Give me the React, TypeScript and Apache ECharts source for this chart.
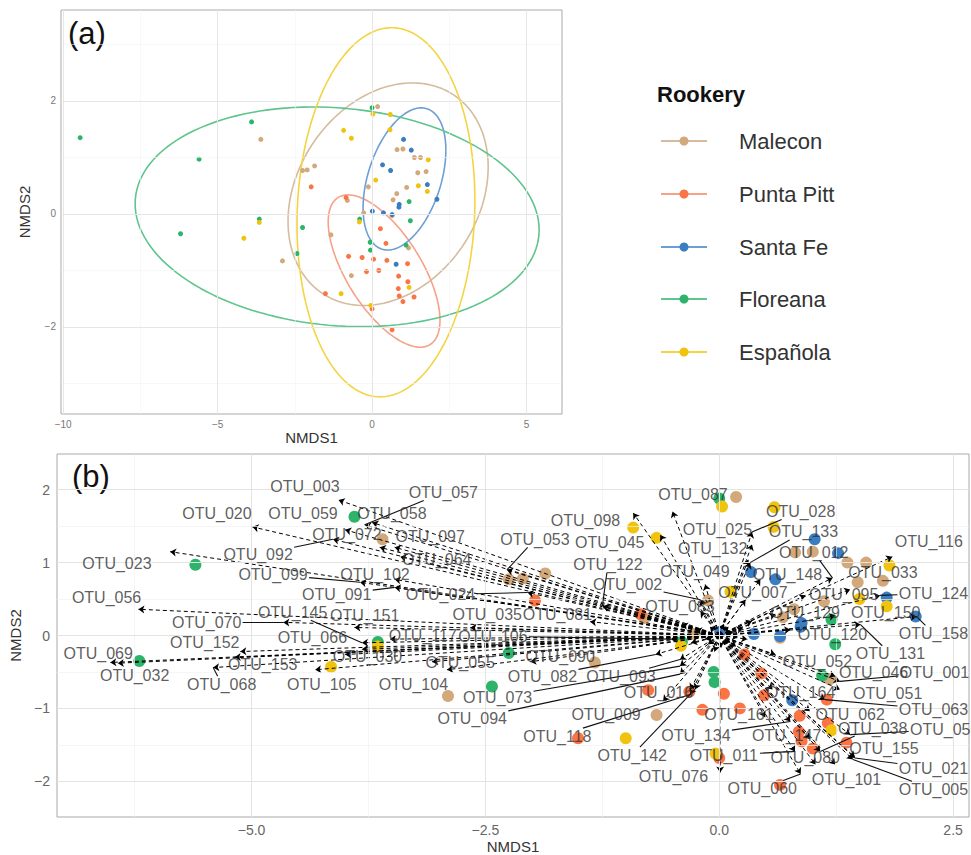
import React, { useEffect, useRef } from "react";
import * as echarts from "echarts";

const rookeries = ["Malecon", "Punta Pitt", "Santa Fe", "Floreana", "Española"];
const pointColors = ["#D3A87B", "#FA7446", "#3B7DC3", "#2DB46A", "#F0C30F"];
const ellipseColors = ["#D6BC9E", "#F7A189", "#6C9FD5", "#5FC58D", "#F3D443"];

// sample scores (NMDS1, NMDS2)
const malecon = [
  [0.18, 1.9], [-3.6, 1.32], [0.81, 1.14], [1.0, 1.15], [1.37, 1.0], [1.57, 1.0],
  [-2.25, 0.77], [-2.1, 0.78], [-1.86, 0.85], [1.48, 0.73], [1.75, 0.75], [-0.12, 0.48],
  [1.12, 0.47], [0.8, 0.36], [0.68, 0.25], [-0.8, 0.24], [-0.27, 0.02], [0.65, -0.03],
  [-1.33, -0.37], [1.18, -0.6], [-2.9, -0.83], [-0.67, -1.09],
];
const puntaPitt = [
  [-1.97, 0.48], [-0.84, 0.29], [0.27, -0.26], [0.45, -0.52], [-0.76, -0.75], [-0.32, -0.77],
  [0.05, -0.8], [0.48, -0.82], [1.15, -0.88], [-0.18, -1.02], [0.22, -1.0], [0.86, -1.1],
  [1.16, -1.2], [0.85, -1.32], [0.88, -1.45], [1.36, -1.47], [-1.51, -1.41], [1.0, -1.55],
  [0.0, -1.68], [0.65, -2.05],
];
const santaFe = [
  [1.02, 1.32], [1.27, 1.13], [0.34, 0.87], [0.6, 0.77], [1.79, 0.52], [2.1, 0.26],
  [0.88, 0.17], [0.87, 0.12], [0.01, 0.05], [0.37, 0.02], [0.65, -0.01], [0.78, -0.89],
];
const floreana = [
  [-9.45, 1.35], [-3.9, 1.63], [-5.6, 0.97], [-6.2, -0.35], [-3.65, -0.09], [-2.25, -0.24],
  [-2.43, -0.7], [0.0, 1.88], [-0.4, -0.09], [-0.06, -0.5], [-0.05, -0.64], [1.2, 0.22],
  [1.24, -0.12], [1.1, -0.55],
];
const espanola = [
  [0.03, 1.77], [0.59, 1.76], [-0.92, 1.48], [0.58, 1.49], [-0.67, 1.34], [1.82, 0.96],
  [0.12, 0.6], [1.5, 0.5], [1.79, 0.4], [-3.65, -0.15], [-0.41, -0.14], [-4.15, -0.43],
  [-1.0, -1.41], [-0.04, -1.62], [1.2, -1.3],
];
const samples = [malecon, puntaPitt, santaFe, floreana, espanola];

// 95% ellipses: centre, conjugate semi-axis a, conjugate semi-axis b
const ellipseCenters = [[0.52, 0.35], [0.39, -1.01], [1.05, 0.62], [-1.13, -0.05], [0.45, 0.03]];
const ellipseAxisA = [[3.24, 0.48], [1.81, -0.87], [1.34, 0.51], [6.54, -0.23], [2.88, 0.21]];
const ellipseAxisB = [[0, 1.91], [0, 1.03], [0, 1.15], [0, 1.93], [0, 3.26]];

// OTU vectors: name, tip x, tip y, label x, label y, connector segment shown
const otus: [string, number, number, number, number, number][] = [
  ["OTU_003", -4.07, 1.86, -4.43, 2.05, 0],
  ["OTU_020", -4.99, 1.49, -5.37, 1.67, 0],
  ["OTU_059", -4.0, 1.45, -4.45, 1.67, 0],
  ["OTU_057", -3.79, 1.52, -2.95, 1.96, 1],
  ["OTU_058", -3.71, 1.55, -3.5, 1.68, 0],
  ["OTU_072", -3.63, 1.21, -3.98, 1.38, 0],
  ["OTU_097", -3.47, 1.21, -3.09, 1.36, 0],
  ["OTU_092", -4.13, 1.32, -4.93, 1.11, 1],
  ["OTU_023", -5.87, 1.15, -6.44, 0.99, 0],
  ["OTU_064", -3.41, 1.08, -3.02, 1.04, 0],
  ["OTU_053", -2.27, 0.9, -1.97, 1.32, 1],
  ["OTU_099", -3.84, 0.73, -4.77, 0.84, 1],
  ["OTU_102", -3.47, 0.77, -3.68, 0.84, 0],
  ["OTU_091", -3.47, 0.66, -4.09, 0.56, 1],
  ["OTU_024", -2.05, 0.59, -2.98, 0.56, 1],
  ["OTU_056", -6.21, 0.36, -6.55, 0.52, 0],
  ["OTU_070", -4.66, 0.18, -5.48, 0.18, 1],
  ["OTU_145", -3.82, -0.1, -4.56, 0.32, 1],
  ["OTU_151", -3.9, 0.11, -3.79, 0.27, 0],
  ["OTU_035", -2.66, 0.11, -2.48, 0.29, 0],
  ["OTU_081", -1.38, 0.19, -1.73, 0.29, 0],
  ["OTU_066", -3.82, -0.19, -4.35, -0.03, 0],
  ["OTU_117", -3.52, -0.05, -3.17, 0.0, 0],
  ["OTU_106", -0.52, -0.05, -2.42, -0.01, 1],
  ["OTU_152", -5.12, -0.22, -5.5, -0.1, 0],
  ["OTU_069", -6.51, -0.37, -6.64, -0.25, 0],
  ["OTU_032", -6.43, -0.38, -6.25, -0.55, 0],
  ["OTU_153", -5.18, -0.3, -4.88, -0.4, 0],
  ["OTU_068", -5.41, -0.44, -5.32, -0.67, 1],
  ["OTU_105", -4.32, -0.47, -4.25, -0.67, 0],
  ["OTU_030", -4.0, -0.26, -3.76, -0.29, 0],
  ["OTU_055", -3.07, -0.36, -2.77, -0.37, 0],
  ["OTU_104", -2.91, -0.47, -3.27, -0.67, 0],
  ["OTU_090", -2.02, -0.36, -1.7, -0.29, 0],
  ["OTU_082", -0.68, -0.26, -1.89, -0.56, 1],
  ["OTU_093", -0.42, -0.33, -1.05, -0.56, 1],
  ["OTU_073", -0.42, -0.42, -2.37, -0.85, 1],
  ["OTU_094", -0.42, -0.53, -2.64, -1.14, 1],
  ["OTU_009", -0.6, -0.9, -1.21, -1.08, 0],
  ["OTU_016", -0.31, -0.74, -0.65, -0.78, 0],
  ["OTU_118", -0.31, -0.81, -1.73, -1.38, 1],
  ["OTU_142", -0.26, -0.74, -0.93, -1.64, 1],
  ["OTU_098", -0.92, 1.68, -1.43, 1.58, 0],
  ["OTU_045", -0.63, 1.38, -1.17, 1.27, 0],
  ["OTU_122", -1.25, 0.4, -1.19, 0.97, 1],
  ["OTU_002", -0.2, 0.49, -0.98, 0.7, 1],
  ["OTU_087", -0.5, 1.7, -0.28, 1.93, 0],
  ["OTU_028", 0.35, 1.42, 0.87, 1.7, 1],
  ["OTU_025", 0.35, 1.25, -0.02, 1.45, 0],
  ["OTU_133", 0.33, 1.0, 0.9, 1.42, 1],
  ["OTU_132", 0.31, 1.04, -0.07, 1.19, 0],
  ["OTU_012", 1.21, 0.79, 1.01, 1.14, 1],
  ["OTU_116", 1.85, 1.08, 2.24, 1.29, 0],
  ["OTU_033", 1.4, 0.63, 1.75, 0.86, 0],
  ["OTU_049", -0.15, 0.7, -0.26, 0.88, 0],
  ["OTU_148", 0.44, 0.77, 0.73, 0.84, 0],
  ["OTU_007", 0.28, 0.49, 0.36, 0.59, 0],
  ["OTU_095", 0.92, 0.55, 1.33, 0.56, 0],
  ["OTU_124", 1.72, 0.55, 2.29, 0.58, 1],
  ["OTU_083", -0.2, 0.33, -0.42, 0.4, 0],
  ["OTU_129", 0.6, 0.29, 0.92, 0.32, 0],
  ["OTU_150", 1.24, 0.27, 1.78, 0.32, 0],
  ["OTU_158", 2.11, 0.26, 2.29, 0.03, 1],
  ["OTU_120", 0.76, 0.08, 1.21, 0.01, 0],
  ["OTU_131", 1.51, 0.15, 1.83, -0.25, 1],
  ["OTU_052", 0.6, -0.26, 1.05, -0.36, 0],
  ["OTU_046", 1.24, -0.56, 1.65, -0.51, 0],
  ["OTU_001", 1.29, -0.63, 2.3, -0.51, 1],
  ["OTU_051", 1.29, -0.74, 1.8, -0.79, 0],
  ["OTU_164", 0.57, -0.74, 0.87, -0.78, 0],
  ["OTU_063", 1.13, -0.88, 2.29, -1.01, 1],
  ["OTU_062", 0.97, -1.04, 1.4, -1.08, 0],
  ["OTU_161", 0.49, -1.12, 0.21, -1.08, 0],
  ["OTU_134", 0.76, -1.18, -0.25, -1.37, 1],
  ["OTU_147", 0.97, -1.42, 0.72, -1.37, 0],
  ["OTU_038", 1.08, -1.59, 1.64, -1.27, 1],
  ["OTU_050", 1.4, -1.36, 2.41, -1.29, 1],
  ["OTU_155", 1.45, -1.67, 1.76, -1.55, 0],
  ["OTU_011", 0.81, -1.59, 0.05, -1.64, 1],
  ["OTU_080", 1.03, -1.77, 0.92, -1.68, 0],
  ["OTU_021", 1.45, -1.68, 2.29, -1.82, 1],
  ["OTU_005", 1.43, -1.7, 2.29, -2.11, 1],
  ["OTU_101", 1.24, -1.77, 1.36, -1.97, 0],
  ["OTU_076", 0.01, -1.88, -0.49, -1.93, 0],
  ["OTU_060", 0.87, -1.9, 0.46, -2.1, 1],
];
// short vectors crowded at the origin (labels hidden under the crowd)
const shortTips = [
  [0.15, 0.05], [0.12, -0.1], [-0.1, 0.12], [-0.15, -0.05], [0.05, 0.16], [0.02, -0.17],
  [-0.2, 0.02], [0.2, -0.02], [0.1, 0.12], [-0.12, -0.12], [0.25, 0.1], [-0.25, 0.08],
  [0.18, -0.15], [-0.05, -0.22], [0.3, -0.05], [-0.3, -0.1], [-0.4, 0.15], [0.35, 0.2],
];

// axes
const aXRange = [-10.07, 6.15];
const aYRange = [-3.54, 3.61];
const aXTicks = [-10, -5, 0, 5];
const aXMinor = [-7.5, -2.5, 2.5];
const aYTicks = [-2, 0, 2];
const aYMinor = [-3, -1, 1, 3];
const bXRange = [-7.08, 2.67];
const bYRange = [-2.49, 2.49];
const bXTicks = [-5, -2.5, 0, 2.5];
const bXMinor = [-6.25, -3.75, -1.25, 1.25];
const bYTicks = [-2, -1, 0, 1, 2];
const bYMinor = [-1.5, -0.5, 0.5, 1.5];

const FONT = '"Liberation Sans", Arial, sans-serif';
const gridA = { left: 61, top: 10, width: 501, height: 404 };
const gridB = { left: 57, top: 454, width: 912, height: 364 };

function ellipsePath(c: number[], a: number[], b: number[]) {
  const pts: number[][] = [];
  for (let k = 0; k <= 144; k++) {
    const t = (k / 144) * 2 * Math.PI;
    pts.push([c[0] + a[0] * Math.cos(t) + b[0] * Math.sin(t), c[1] + a[1] * Math.cos(t) + b[1] * Math.sin(t)]);
  }
  return pts;
}

const minus = (s: string) => s.replace("-", "\u2212");

function gridLines(idx: number, xs: number[], ys: number[], color: string, width: number) {
  return {
    type: "scatter",
    xAxisIndex: idx,
    yAxisIndex: idx,
    data: [],
    silent: true,
    z: 0,
    markLine: {
      silent: true,
      symbol: "none",
      animation: false,
      label: { show: false },
      lineStyle: { color, width, type: "solid" },
      data: [...xs.map((v) => ({ xAxis: v })), ...ys.map((v) => ({ yAxis: v }))],
    },
  };
}

function axisBase(extra: any) {
  return {
    type: "value",
    axisLine: { show: false },
    splitLine: { show: false },
    ...extra,
  };
}

export default function App() {
  const ref = useRef<HTMLDivElement>(null);
  useEffect(() => {
    if (!ref.current) return;
    const chart = echarts.init(ref.current, undefined, { renderer: "svg" });

    const sx = gridB.width / (bXRange[1] - bXRange[0]);
    const sy = gridB.height / (bYRange[1] - bYRange[0]);
    const HW = 36, HH = 8;
    const connectors: any[] = [];
    otus.forEach(([, tx, ty, lx, ly, seg]) => {
      if (!seg) return;
      const dx = (tx - lx) * sx, dy = (ty - ly) * sy;
      const t = Math.min(HW / Math.max(Math.abs(dx), 1e-6), HH / Math.max(Math.abs(dy), 1e-6));
      if (t >= 1) return;
      connectors.push({ coords: [[lx + (tx - lx) * t, ly + (ty - ly) * t], [tx, ty]] });
    });

    const arrows = [
      ...otus.map(([, tx, ty]) => ({ coords: [[0, 0], [tx, ty]] })),
      ...shortTips.map(([tx, ty]) => ({ coords: [[0, 0], [tx, ty]] })),
    ];

    const series: any[] = [
      gridLines(0, aXMinor, aYMinor, "#f3f3f3", 0.6),
      gridLines(0, aXTicks, aYTicks, "#e6e6e6", 1),
      gridLines(1, bXMinor, bYMinor, "#f1f1f1", 0.7),
      gridLines(1, bXTicks, bYTicks, "#e3e3e3", 1),
    ];
    rookeries.forEach((r, i) => {
      series.push({
        type: "line",
        name: r + " ellipse",
        xAxisIndex: 0,
        yAxisIndex: 0,
        data: ellipsePath(ellipseCenters[i], ellipseAxisA[i], ellipseAxisB[i]),
        showSymbol: false,
        symbol: "none",
        silent: true,
        lineStyle: { color: ellipseColors[i], width: 1.6 },
        z: 2,
      });
    });
    rookeries.forEach((r, i) => {
      series.push({
        type: "scatter",
        name: r,
        xAxisIndex: 0,
        yAxisIndex: 0,
        data: samples[i],
        symbolSize: 5,
        itemStyle: { color: pointColors[i], opacity: 1 },
        z: 3,
      });
    });
    rookeries.forEach((r, i) => {
      series.push({
        type: "scatter",
        name: r + " b",
        xAxisIndex: 1,
        yAxisIndex: 1,
        data: samples[i],
        symbolSize: 12,
        clip: true,
        itemStyle: { color: pointColors[i], opacity: 1 },
        z: 3,
      });
    });
    series.push({
      type: "lines",
      coordinateSystem: "cartesian2d",
      xAxisIndex: 1,
      yAxisIndex: 1,
      data: arrows,
      symbol: ["none", "arrow"],
      symbolSize: 6,
      silent: true,
      lineStyle: { color: "#000", width: 1, type: [4, 3], opacity: 1 },
      z: 4,
    });
    series.push({
      type: "lines",
      coordinateSystem: "cartesian2d",
      xAxisIndex: 1,
      yAxisIndex: 1,
      data: connectors,
      symbol: "none",
      silent: true,
      lineStyle: { color: "#111", width: 1.1, type: "solid", opacity: 1 },
      z: 5,
    });
    series.push({
      type: "scatter",
      xAxisIndex: 1,
      yAxisIndex: 1,
      data: otus.map(([n, , , lx, ly]) => ({ name: n, value: [lx, ly] })),
      symbolSize: 1,
      clip: false,
      itemStyle: { color: "rgba(0,0,0,0)" },
      label: {
        show: true,
        position: "inside",
        formatter: "{b}",
        color: "#333",
        fontSize: 16,
        fontFamily: FONT,
      },
      labelLayout: { hideOverlap: false },
      z: 6,
    });

    const legendY = [141, 194, 247, 299, 352];
    const graphic: any[] = [
      { type: "text", left: 68, top: 18, style: { text: "(a)", font: `31px ${FONT}`, fill: "#111" } },
      { type: "text", left: 72, top: 461, style: { text: "(b)", font: `31px ${FONT}`, fill: "#111" } },
      { type: "text", x: 657, y: 94, style: { text: "Rookery", font: `bold 22px ${FONT}`, fill: "#111", verticalAlign: "middle" } },
    ];
    rookeries.forEach((r, i) => {
      const y = legendY[i];
      graphic.push(
        { type: "line", shape: { x1: 661, y1: y, x2: 707, y2: y }, style: { stroke: ellipseColors[i], lineWidth: 2 } },
        { type: "circle", shape: { cx: 684, cy: y, r: 4.5 }, style: { fill: pointColors[i] } },
        { type: "text", x: 739, y, style: { text: r, font: `22px ${FONT}`, fill: "#333", verticalAlign: "middle" } }
      );
    });

    chart.setOption({
      animation: false,
      backgroundColor: "#fff",
      textStyle: { fontFamily: FONT },
      grid: [
        { ...gridA, show: true, borderColor: "#a9a9a9", borderWidth: 1, backgroundColor: "transparent" },
        { ...gridB, show: true, borderColor: "#a9a9a9", borderWidth: 1, backgroundColor: "transparent" },
      ],
      xAxis: [
        axisBase({
          gridIndex: 0,
          min: aXRange[0],
          max: aXRange[1],
          axisTick: { show: true, length: 3, customValues: aXTicks, lineStyle: { color: "#777" } },
          axisLabel: { customValues: aXTicks, color: "#777", fontSize: 10, margin: 5, formatter: (v: number) => minus(String(v)) },
          name: "NMDS1",
          nameLocation: "middle",
          nameGap: 11,
          nameTextStyle: { fontSize: 15, color: "#333", fontFamily: FONT },
        }),
        axisBase({
          gridIndex: 1,
          min: bXRange[0],
          max: bXRange[1],
          axisTick: { show: true, length: 3, customValues: bXTicks, lineStyle: { color: "#777" } },
          axisLabel: { customValues: bXTicks, color: "#666", fontSize: 14, margin: 6, formatter: (v: number) => minus(v.toFixed(1)) },
          name: "NMDS1",
          nameLocation: "middle",
          nameGap: 22,
          nameTextStyle: { fontSize: 15, color: "#333", fontFamily: FONT },
        }),
      ],
      yAxis: [
        axisBase({
          gridIndex: 0,
          min: aYRange[0],
          max: aYRange[1],
          axisTick: { show: true, length: 3, customValues: aYTicks, lineStyle: { color: "#777" } },
          axisLabel: { customValues: aYTicks, color: "#777", fontSize: 10, margin: 5, formatter: (v: number) => minus(String(v)) },
          name: "NMDS2",
          nameLocation: "middle",
          nameGap: 29,
          nameTextStyle: { fontSize: 15, color: "#333", fontFamily: FONT },
        }),
        axisBase({
          gridIndex: 1,
          min: bYRange[0],
          max: bYRange[1],
          axisTick: { show: true, length: 3, customValues: bYTicks, lineStyle: { color: "#777" } },
          axisLabel: { customValues: bYTicks, color: "#666", fontSize: 14, margin: 7, formatter: (v: number) => minus(String(v)) },
          name: "NMDS2",
          nameLocation: "middle",
          nameGap: 29,
          nameTextStyle: { fontSize: 15, color: "#333", fontFamily: FONT },
        }),
      ],
      series,
      graphic,
    });
    return () => chart.dispose();
  }, []);
  return (
    <div
      ref={ref}
      style={{ position: "absolute", left: 0, top: 0, width: 971, height: 855, background: "#fff" }}
    />
  );
}
